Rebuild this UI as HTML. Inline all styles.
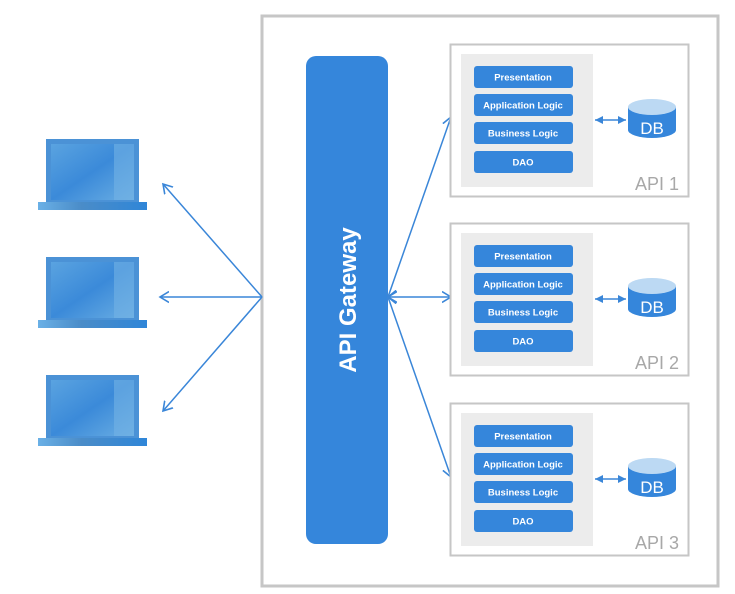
<!DOCTYPE html>
<html><head><meta charset="utf-8"><style>
html,body{margin:0;padding:0;background:#fff;width:735px;height:594px;overflow:hidden}
svg{display:block}
.b{font-family:"Liberation Sans",sans-serif;font-size:9.5px;fill:#fff;text-anchor:middle;font-weight:bold}
.api{font-family:"Liberation Sans",sans-serif;font-size:18px;fill:#a8a8a8}
</style></head><body>
<svg width="735" height="594" viewBox="0 0 735 594" xmlns="http://www.w3.org/2000/svg">
<defs>
<linearGradient id="scr" x1="0" y1="0" x2="1" y2="1"><stop offset="0" stop-color="#5aa3e0"/><stop offset="0.5" stop-color="#3b8ad9"/><stop offset="1" stop-color="#6aaee3"/></linearGradient>
<linearGradient id="base" x1="0" y1="0" x2="1" y2="0"><stop offset="0" stop-color="#6ab0e6"/><stop offset="0.4" stop-color="#4a8cc8"/><stop offset="1" stop-color="#2f86d8"/></linearGradient>
<marker id="ah" markerWidth="14" markerHeight="14" refX="9" refY="7" orient="auto-start-reverse" markerUnits="userSpaceOnUse"><path d="M0,1.5 L9,7 L0,12.5" fill="none" stroke="#3a86d8" stroke-width="1.6"/></marker>
<marker id="sa" markerWidth="10" markerHeight="10" refX="8" refY="5" orient="auto-start-reverse" markerUnits="userSpaceOnUse"><path d="M0,1 L8,5 L0,9 Z" fill="#3a86d8"/></marker>
</defs>
<rect x="262" y="16" width="456" height="570" fill="#fff" stroke="#c6c6c6" stroke-width="3"/>
<g id="lp">
<rect x="46" y="139" width="93" height="63" fill="#4b92d6"/>
<rect x="51" y="144" width="83" height="56" fill="url(#scr)"/>
<rect x="114" y="144" width="20" height="56" fill="#73b2e4" opacity="0.6"/>
<rect x="38" y="202" width="109" height="8" fill="url(#base)"/>
</g>
<use href="#lp" y="118"/>
<use href="#lp" y="236"/>
<g stroke="#3a86d8" stroke-width="1.5" fill="none">
<line x1="262" y1="297" x2="163" y2="184" marker-end="url(#ah)"/>
<line x1="262" y1="297" x2="160" y2="297" marker-end="url(#ah)"/>
<line x1="262" y1="297" x2="163" y2="411" marker-end="url(#ah)"/>
</g>
<rect x="306" y="56" width="82" height="488" rx="10" fill="#3586db"/>
<text transform="translate(356,300) rotate(-90)" text-anchor="middle" font-family="Liberation Sans,sans-serif" font-size="24" font-weight="bold" fill="#fff">API Gateway</text>
<g stroke="#3a86d8" stroke-width="1.5" fill="none">
<line x1="388" y1="297" x2="451" y2="117" marker-end="url(#ah)" marker-start="url(#ah)"/>
<line x1="388" y1="297" x2="451" y2="297" marker-end="url(#ah)" marker-start="url(#ah)"/>
<line x1="388" y1="297" x2="451" y2="477" marker-end="url(#ah)" marker-start="url(#ah)"/>
</g>
<g id="api">
<rect x="450.5" y="44.5" width="238" height="152" fill="#fff" stroke="#c6c6c6" stroke-width="2"/>
<rect x="461" y="54" width="132" height="133" fill="#ececec"/>
<rect x="474" y="66" width="99" height="22" rx="3" fill="#3586db"/>
<rect x="474" y="94" width="99" height="22" rx="3" fill="#3586db"/>
<rect x="474" y="122" width="99" height="22" rx="3" fill="#3586db"/>
<rect x="474" y="151" width="99" height="22" rx="3" fill="#3586db"/>
<text class="b" x="523" y="80.5">Presentation</text>
<text class="b" x="523" y="108.5">Application Logic</text>
<text class="b" x="523" y="136.5">Business Logic</text>
<text class="b" x="523" y="165.5">DAO</text>
<line x1="595" y1="120" x2="626" y2="120" stroke="#3a86d8" stroke-width="1.5" marker-start="url(#sa)" marker-end="url(#sa)"/>
<path d="M628,107 L628,130 A24,8 0 0 0 676,130 L676,107 Z" fill="#3586db"/>
<ellipse cx="652" cy="107" rx="24" ry="8" fill="#bcd9f3"/>
<text x="652" y="134" text-anchor="middle" font-family="Liberation Sans,sans-serif" font-size="17" fill="#fff">DB</text>
</g>
<use href="#api" y="179"/>
<use href="#api" y="359"/>
<text class="api" x="635" y="190">API 1</text>
<text class="api" x="635" y="369">API 2</text>
<text class="api" x="635" y="549">API 3</text>
</svg>
</body></html>
